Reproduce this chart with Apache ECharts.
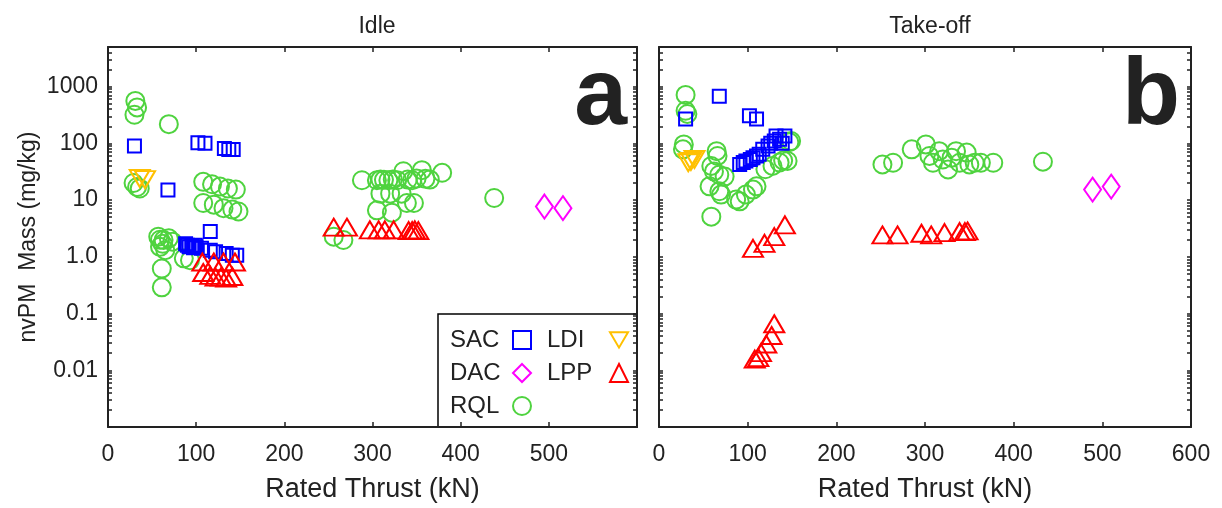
<!DOCTYPE html>
<html>
<head>
<meta charset="utf-8">
<script src="https://cdn.jsdelivr.net/npm/echarts@6/dist/echarts.min.js"></script>
<style>
  html, body { margin: 0; background: #fff; }
  #chart { width: 1222px; height: 508px; }
</style>
</head>
<body>
<div id="chart"></div>
<script>
/* 数据: [Rated Thrust (kN), nvPM mass (mg/kg)] */
// Idle
const idleSAC = [[30,90],[102,103],[110,100],[132,81],[137,78],[142,78],[68,15],[116,2.8],
  [88,1.7],[90,1.6],[92,1.5],[95,1.55],[97,1.45],[99,1.6],[100,1.5],[106,1.41],[116,1.31],
  [122,1.23],[134,1.15],[141,1.07],[146,1.07]];
const idleDAC = [[495,7.7],[516,7.2]];
const idleRQL = [[31,560],[30,320],[33,430],[69,218],[29,20],[33,17],[36,16],
  [108,21],[118,19],[127,17.3],[136,16],[145,15.3],
  [108,8.9],[120,8.3],[131,7.2],[141,6.8],[148,6.3],
  [57,2.27],[59,2.0],[63,1.98],[69,2.12],[73,1.85],[59,1.5],[65,1.31],[62,1.7],
  [61,0.62],[61,0.29],[86,0.94],[93,0.87],[256,2.27],[267,1.98],
  [288,22.4],[305,22.4],[309,23],[313,22.8],[318,22.4],[323,23],[328,22.4],[335,32.3],
  [340,23],[345,22.4],[350,24],[356,33.7],[360,23.7],[365,23],[379,30.3],
  [309,13],[320,13],[333,13],[339,8.9],[347,8.9],[305,6.6],[322,6.0],[438,10.9]];
const idleLDI = [[36,24],[42,23]];
const idleLPP = [[107,0.81],[120,0.81],[131,0.81],[144,0.81],[108,0.53],[116,0.47],[122,0.44],
  [128,0.44],[134,0.42],[141,0.45],[256,3.33],[271,3.33],[297,2.98],[307,2.98],[314,2.98],
  [324,2.98],[341,2.9],[345,2.9],[348,2.98],[352,2.9]];

// Take-off
const toSAC = [[68,678],[30,268],[102,307],[110,268],[91,42.5],[95,46],[98,48.7],[103,52],
  [106,56],[110,60],[113,64],[117,78.5],[123,90],[126,100],[130,110],[132,135],[136,118],
  [139,100],[142,135]];
const toDAC = [[489,15.3],[510,17.3]];
const toRQL = [[30,715],[30,376],[32,330],[27,78.5],[28,96],
  [65,73],[66,60],[59,40],[62,32],[68,28],[74,26],[57,17.5],[68,14.3],[70,12.5],[87,10.2],
  [91,9.5],[98,12.5],[106,15.3],[110,17.5],[59,5.1],[120,35],[128,40],[136,46],[140,50],
  [145,49],[147,105],[149,110],
  [252,42.5],[264,45.6],[285,78.5],[301,96],[305,60],[309,45.6],[316,73],[320,52],[326,34.7],
  [330,56],[335,73],[339,45.6],[347,68.7],[350,42.5],[356,45.6],[363,45.6],[377,45.6],[433,47.5]];
const toLDI = [[33,45.6],[36,48],[40,52]];
const toLPP = [[106,1.41],[119,1.73],[130,2.27],[142,3.65],[130,0.066],[127,0.041],[121,0.029],
  [115,0.0205],[112,0.0167],[108,0.0157],
  [252,2.43],[269,2.43],[296,2.6],[307,2.43],[322,2.67],[339,2.78],[345,2.78],[348,2.86]];

// 刻度
const xTicks = [0, 100, 200, 300, 400, 500, 600];
const yTickValues = [0.01, 0.1, 1, 10, 100, 1000];
const yTickLabels = ['0.01', '0.1', '1.0', '10', '100', '1000'];

const font = "'Liberation Sans', Arial, sans-serif";
const ink = '#222';

// 对数轴小刻度 (2..9 每十倍)
const yTicksAll = [];
[0.001, 0.01, 0.1, 1, 10, 100, 1000].forEach(function (d) {
  for (let k = 1; k <= 9; k++) {
    const v = +(d * k).toPrecision(3);
    if (v <= 5000) yTicksAll.push(v);
  }
});

const chart = echarts.init(document.getElementById('chart'));

const grids = [
  {left: 108, top: 47, width: 529, height: 380},
  {left: 659, top: 47, width: 532, height: 380}
];

function xAxes(gi) {
  const base = {
    type: 'value', gridIndex: gi, min: 0, max: 600, interval: 100,
    axisLine: {show: true, onZero: false, lineStyle: {color: ink, width: 2}},
    axisTick: {show: true, inside: true, length: 5, lineStyle: {color: ink, width: 1.5}},
    splitLine: {show: false}
  };
  return [
    Object.assign({}, base, {
      position: 'bottom',
      name: 'Rated Thrust (kN)', nameLocation: 'middle', nameGap: 49,
      nameTextStyle: {fontFamily: font, fontSize: 27, color: ink},
      axisLabel: {
        show: true, margin: 16, fontFamily: font, fontSize: 23, color: ink,
        formatter: function (v) { return (gi === 0 && v === 600) ? '' : String(v); }
      }
    }),
    Object.assign({}, base, {position: 'top', axisLabel: {show: false}})
  ];
}

function yAxes(gi) {
  const base = {
    type: 'log', logBase: 10, gridIndex: gi, min: 0.001, max: 5000,
    axisLine: {show: true, onZero: false, lineStyle: {color: ink, width: 2}},
    axisTick: {show: true, inside: true, length: 4, customValues: yTicksAll,
      lineStyle: {color: ink, width: 1.5}},
    splitLine: {show: false}, minorTick: {show: false}
  };
  const left = Object.assign({}, base, {
    position: 'left',
    axisLabel: {
      show: gi === 0, margin: 10, fontFamily: font, fontSize: 23, color: ink,
      customValues: yTickValues,
      formatter: function (v) {
        const i = yTickValues.findIndex(function (t) { return Math.abs(Math.log10(t) - Math.log10(v)) < 1e-6; });
        return i >= 0 ? yTickLabels[i] : '';
      }
    }
  });
  if (gi === 0) {
    left.name = 'nvPM  Mass (mg/kg)';
    left.nameLocation = 'middle';
    left.nameGap = 68;
    left.nameTextStyle = {fontFamily: font, fontSize: 23, color: ink};
  }
  return [left, Object.assign({}, base, {position: 'right', axisLabel: {show: false}})];
}

// 倒三角 (LDI)
const triDown = 'path://M0,0 L20,0 L10,17 Z';

const styles = {
  SAC: {symbol: 'rect', size: 13, color: '#0000ff', z: 3},
  DAC: {symbol: 'diamond', size: [17, 24], color: '#ff00ff', z: 3},
  RQL: {symbol: 'circle', size: 18, color: '#4fd33f', z: 2},
  LDI: {symbol: triDown, size: [20, 17], color: '#ffc000', z: 4},
  LPP: {symbol: 'triangle', size: [20, 17], color: '#ff0000', z: 5}
};

function mk(name, gi, data) {
  const s = styles[name];
  return {
    name: name, type: 'scatter', xAxisIndex: gi * 2, yAxisIndex: gi * 2, data: data,
    symbol: s.symbol, symbolSize: s.size, z: s.z,
    itemStyle: {color: 'rgba(255,255,255,0)', borderColor: s.color, borderWidth: 2, opacity: 1},
    emphasis: {disabled: true}
  };
}

const legendText = {
  fontFamily: font, fontSize: 24, color: ink,
  rich: {t: {width: 58, align: 'left', fontFamily: font, fontSize: 24, color: ink}}
};
function legend(names, left) {
  return {
    data: names,
    orient: 'vertical', left: left, top: 328, padding: 0,
    align: 'right', itemWidth: 18, itemHeight: 18, itemGap: 9,
    selectedMode: false,
    formatter: function (n) { return '{t|' + n + '}'; },
    textStyle: legendText
  };
}

chart.setOption({
  animation: false,
  backgroundColor: '#fff',
  title: [
    {text: 'Idle', left: 372, top: 10, textAlign: 'center',
      textStyle: {fontFamily: font, fontSize: 23, fontWeight: 'normal', color: ink}},
    {text: 'Take-off', left: 925, top: 10, textAlign: 'center',
      textStyle: {fontFamily: font, fontSize: 23, fontWeight: 'normal', color: ink}},
    {text: 'a', right: 590, top: 45,
      textStyle: {fontFamily: font, fontSize: 95, fontWeight: 'bold', color: ink}},
    {text: 'b', right: 37, top: 45,
      textStyle: {fontFamily: font, fontSize: 95, fontWeight: 'bold', color: ink}}
  ],
  grid: grids,
  xAxis: xAxes(0).concat(xAxes(1)),
  yAxis: yAxes(0).concat(yAxes(1)),
  legend: [legend(['SAC', 'DAC', 'RQL'], 450), legend(['LDI', 'LPP'], 547)],
  graphic: [{
    type: 'rect', z: -10, silent: true,
    shape: {x: 438, y: 314, width: 199, height: 113},
    style: {fill: '#fff', stroke: '#000', lineWidth: 1.5}
  }],
  series: [
    mk('RQL', 0, idleRQL), mk('SAC', 0, idleSAC), mk('DAC', 0, idleDAC),
    mk('LDI', 0, idleLDI), mk('LPP', 0, idleLPP),
    mk('RQL', 1, toRQL), mk('SAC', 1, toSAC), mk('DAC', 1, toDAC),
    mk('LDI', 1, toLDI), mk('LPP', 1, toLPP)
  ]
});
</script>
</body>
</html>
